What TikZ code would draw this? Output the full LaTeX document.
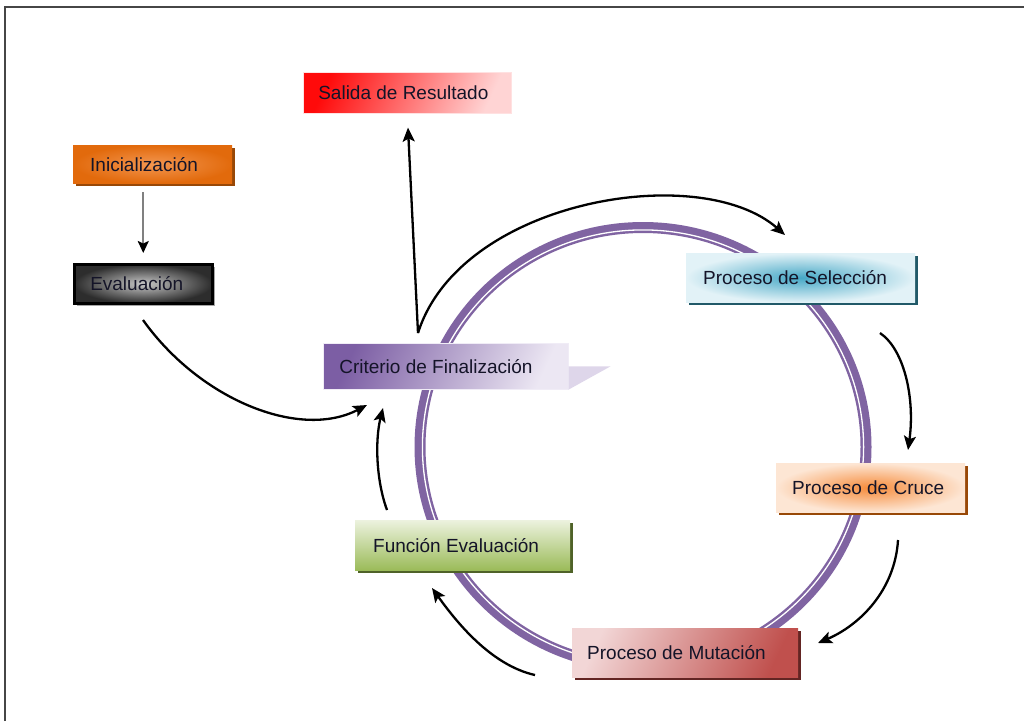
\documentclass[tikz,border=0pt]{standalone}
\usepackage{fontspec}
\setmainfont{Liberation Sans}
\usetikzlibrary{shadows,arrows.meta}

\definecolor{txtcol}{RGB}{20,20,40}
\definecolor{ringpurple}{HTML}{8064A2}
\definecolor{framegray}{RGB}{70,70,70}
\definecolor{iniIn}{RGB}{243,150,80}
\definecolor{iniOut}{RGB}{226,106,12}
\definecolor{iniSh}{RGB}{152,72,7}
\definecolor{evIn}{RGB}{200,200,200}
\definecolor{evOut}{RGB}{45,45,45}
\definecolor{salBd}{RGB}{255,225,225}
\definecolor{salL}{RGB}{255,10,10}
\definecolor{salR}{RGB}{255,212,212}
\definecolor{critBd}{RGB}{240,236,246}
\definecolor{critL}{RGB}{124,94,164}
\definecolor{critR}{RGB}{236,231,243}
\definecolor{critTail}{RGB}{222,214,234}
\definecolor{selIn}{RGB}{70,168,198}
\definecolor{selOut}{RGB}{226,242,247}
\definecolor{selSh}{RGB}{33,89,104}
\definecolor{cruIn}{RGB}{246,140,60}
\definecolor{cruOut}{RGB}{253,230,212}
\definecolor{mutL}{RGB}{242,214,214}
\definecolor{mutR}{RGB}{192,80,77}
\definecolor{mutSh}{RGB}{99,37,35}
\definecolor{funT}{RGB}{236,242,222}
\definecolor{funB}{RGB}{155,187,89}
\definecolor{funSh}{RGB}{79,98,40}

% fixed-width, left-aligned label that never wraps
\newcommand{\lbl}[2]{\makebox[#1][l]{#2}}

\begin{document}
\begin{tikzpicture}[x=1pt,y=-1pt,
  blk/.style={rectangle, anchor=north west, inner ysep=0pt,
    font=\fontsize{19}{22}\selectfont, text=txtcol},
  arr/.style={line width=2.3pt, black,
    -{Stealth[length=14pt,width=12pt,inset=3pt]}},
  ]
\useasboundingbox (0,0) rectangle (1024,721);

% outer frame (only top and left edges are visible)
\draw[line width=2pt, framegray] (5,721) -- (5,7) -- (1024,7);

% purple cycle ring: wide band with a thin white line near its inner edge
\draw[ringpurple, line width=11pt] (643,447) ellipse [x radius=223pt, y radius=219.5pt];
\draw[white, line width=1.3pt] (643,447) ellipse [x radius=220.6pt, y radius=217.1pt];

% process boxes
\node[blk, inner xsep=17pt, minimum width=159pt, minimum height=38pt,
      inner color=iniIn, outer color=iniOut,
      general shadow={fill=iniSh, shadow xshift=3pt, shadow yshift=-3pt}]
  (ini) at (73,145) {\lbl{125pt}{Inicialización}};

\node[blk, inner xsep=16pt, minimum width=138pt, minimum height=39pt,
      draw=black, line width=2.5pt,
      inner color=evIn, outer color=evOut,
      general shadow={fill=gray!70, shadow xshift=3pt, shadow yshift=-3pt}]
  (eval) at (73,263) {\lbl{106pt}{Evaluación}};

\node[blk, inner xsep=15pt, minimum width=208pt, minimum height=41pt,
      draw=salBd, line width=0.6pt,
      left color=salL, right color=salR, shading angle=65]
  (sal) at (303,72) {\lbl{178pt}{Salida de Resultado}};

\node[blk, inner xsep=16pt, minimum width=245pt, minimum height=46pt,
      draw=critBd, line width=0.6pt,
      left color=critL, right color=critR, shading angle=65]
  (crit) at (323,343) {\lbl{213pt}{Criterio de Finalización}};
\fill[critTail]
  (crit.east) -- ([xshift=42pt]crit.east) -- (crit.south east) -- cycle;

\node[blk, inner xsep=17pt, minimum width=229pt, minimum height=49pt,
      inner color=selIn, outer color=selOut,
      general shadow={fill=selSh, shadow xshift=3pt, shadow yshift=-3pt}]
  (sel) at (686,253) {\lbl{195pt}{Proceso de Selección}};

\node[blk, inner xsep=16pt, minimum width=189pt, minimum height=49pt,
      inner color=cruIn, outer color=cruOut,
      general shadow={fill=iniSh, shadow xshift=3pt, shadow yshift=-3pt}]
  (cru) at (776,463) {\lbl{157pt}{Proceso de Cruce}};

\node[blk, inner xsep=15pt, minimum width=226pt, minimum height=49pt,
      left color=mutL, right color=mutR, shading angle=65,
      general shadow={fill=mutSh, shadow xshift=3pt, shadow yshift=-3pt}]
  (mut) at (572,628) {\lbl{196pt}{Proceso de Mutación}};

\node[blk, inner xsep=18pt, minimum width=215pt, minimum height=50pt,
      top color=funT, bottom color=funB,
      general shadow={fill=funSh, shadow xshift=3pt, shadow yshift=-3pt}]
  (fun) at (355,520) {\lbl{179pt}{Función Evaluación}};

% connector end points
\coordinate (split) at (418,333);
\coordinate (evalOut) at (143,320);
\coordinate (critInA) at (367,405);
\coordinate (funOut) at (387,510);
\coordinate (critInB) at (383,408);
\coordinate (selInPt) at (785,235);
\coordinate (selOutPt) at (880,333);
\coordinate (cruInPt) at (908,450);
\coordinate (cruOutPt) at (898,540);
\coordinate (mutInPt) at (818,643);
\coordinate (mutOutPt) at (535,675);
\coordinate (funInPt) at (432,588);

% connectors
\draw[line width=2pt, gray, -{Stealth[length=12pt,width=11pt,inset=2.5pt,black]},
      shorten <=9pt, shorten >=10pt]
  (eval.north |- ini.south) -- (eval.north);
\draw[arr] (evalOut) .. controls (200,400) and (300,440) .. (critInA);
\draw[arr] (funOut) .. controls (376,480) and (375,440) .. (critInB);
\draw[arr, shorten >=14pt] (split) -- (sal.south);
\draw[arr] (split) .. controls (460,200) and (700,160) .. (selInPt);
\draw[arr] (selOutPt) .. controls (905,350) and (915,400) .. (cruInPt);
\draw[arr] (cruOutPt) .. controls (895,590) and (860,625) .. (mutInPt);
\draw[arr] (mutOutPt) .. controls (490,665) and (455,620) .. (funInPt);
\end{tikzpicture}
\end{document}
